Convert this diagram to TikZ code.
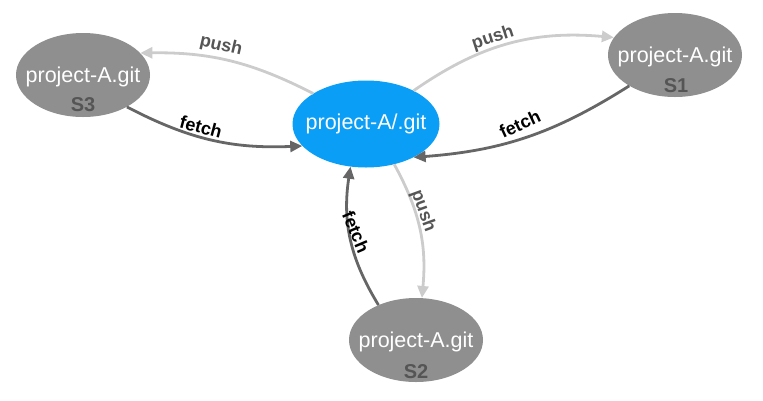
\documentclass[tikz,border=0pt]{standalone}
\usepackage{fontspec}
\setmainfont{Liberation Sans}
\usetikzlibrary{arrows.meta,shapes.geometric}
\definecolor{nodeblue}{HTML}{0A9EF6}
\definecolor{nodegray}{HTML}{8F8F8F}
\definecolor{pushgray}{HTML}{CCCCCC}
\definecolor{fetchgray}{HTML}{666666}
\definecolor{labgray}{HTML}{555555}
\begin{document}
\begin{tikzpicture}[x=1pt,y=-1pt,
  repo/.style={ellipse, fill=nodegray, minimum width=134pt, minimum height=84pt, inner sep=0pt},
  central/.style={ellipse, fill=nodeblue, minimum width=147pt, minimum height=87pt, inner sep=0pt},
  reponame/.style={text=white, inner sep=0pt, font=\fontsize{21.5}{24}\selectfont},
  tag/.style={text=labgray, inner sep=0pt, font=\bfseries\fontsize{20}{24}\selectfont},
  pushline/.style={draw=pushgray, line width=2.8pt, -{Triangle[length=12pt,width=11pt]}},
  fetchline/.style={draw=fetchgray, line width=2.8pt, -{Triangle[length=12pt,width=11pt]}},
  pushlab/.style={text=labgray, font=\bfseries\fontsize{18}{20}\selectfont, inner sep=0pt},
  fetchlab/.style={text=black, font=\bfseries\fontsize{18}{20}\selectfont, inner sep=0pt}]
\useasboundingbox (0,0) rectangle (763,400);
\node[central] (C) at (366,124) {};
\node[reponame] (nC) at (C) {project-A/.git};
\node[repo] (S3) at (83,75) {};
\node[reponame] (n3) at (83,77) {project-A.git};
\node[tag] (t3) at (83,105) {S3};
\node[repo] (S1) at (675,55) {};
\node[reponame] (n1) at (675,57) {project-A.git};
\node[tag] (t1) at (676,86) {S1};
\node[repo] (S2) at (416,340) {};
\node[reponame] (n2) at (416,342) {project-A.git};
\node[tag] (t2) at (416,372) {S2};
% edges
\draw[pushline] (C.150) to[bend right=14] (S3.21);
\draw[fetchline] (S3.-36) to[bend right=15] (C.199);
\draw[pushline] (C.35) to[bend left=20] (S1.164);
\draw[fetchline] (S1.214) to[bend left=14] (C.-35);
\draw[pushline] (C.-55) to[bend left=17] (S2.82);
\draw[fetchline] (S2.137) to[bend left=20] (C.250);
% labels
\node[pushlab, rotate=-13] (l1) at (221,46) {push};
\node[fetchlab, rotate=-15] (l2) at (201,127) {fetch};
\node[pushlab, rotate=18] (l3) at (493,38) {push};
\node[fetchlab, rotate=25] (l4) at (520,124) {fetch};
\node[pushlab, rotate=-70] (l5) at (423,211) {push};
\node[fetchlab, rotate=-67] (l6) at (356,232) {fetch};
\end{tikzpicture}
\end{document}
